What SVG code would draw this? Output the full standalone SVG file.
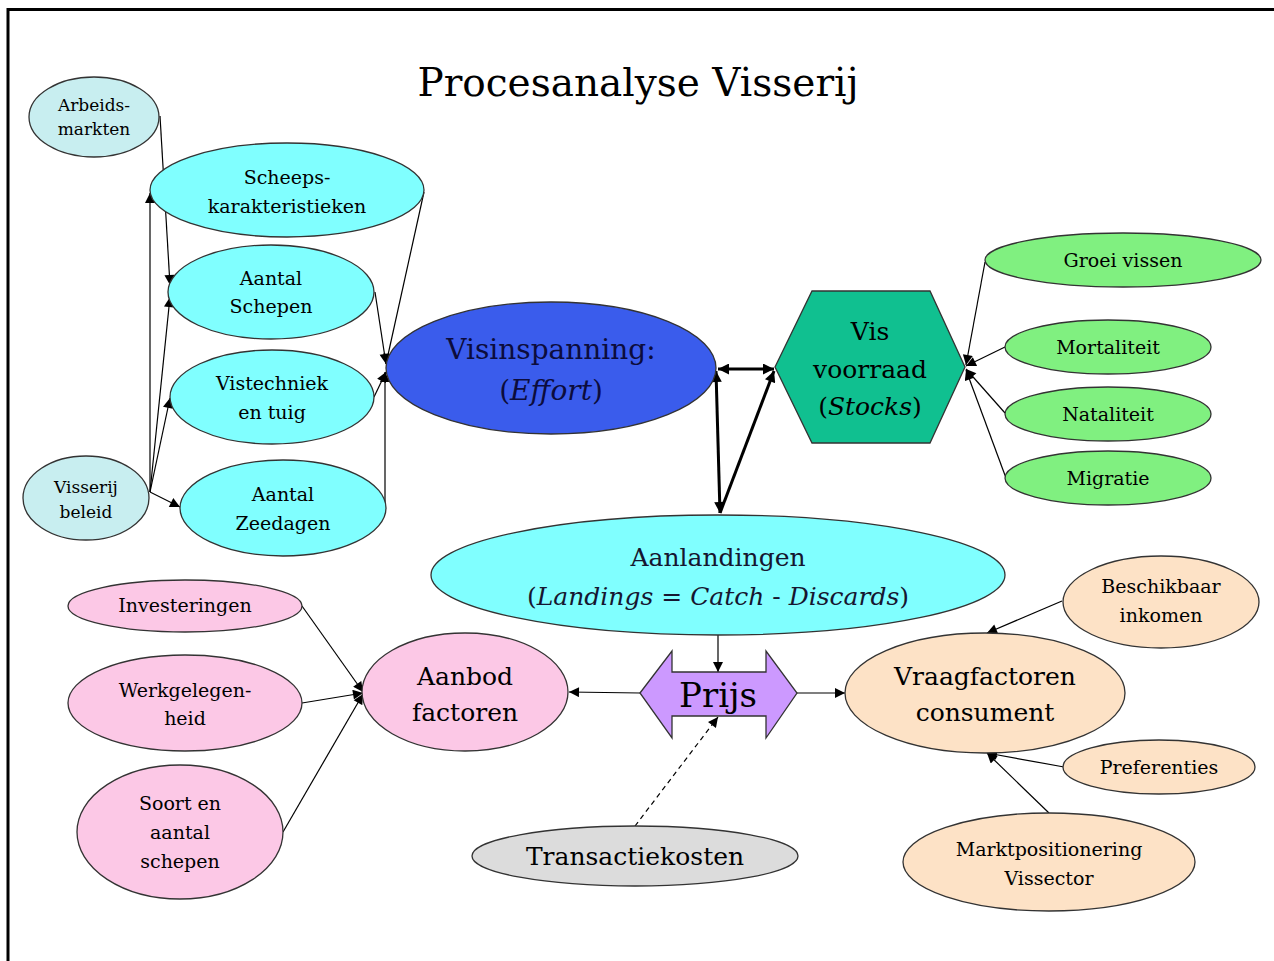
<svg xmlns="http://www.w3.org/2000/svg" width="1274" height="961" viewBox="0 0 1274 961">
  <style>
    text { fill: #000; text-anchor: middle; font-family: "DejaVu Serif", "Liberation Serif", serif; }
    .node ellipse, .node polygon { stroke: #333; stroke-width: 1.3; }
    .lblue { fill: #c8eef0; }
    .cyan { fill: #80ffff; }
    .blue { fill: #3a5cec; }
    .teal { fill: #10c090; }
    .green { fill: #80f080; }
    .pink { fill: #fcc8e6; }
    .purple { fill: #cc99ff; }
    .peach { fill: #fde2c6; }
    .grey { fill: #dcdcdc; }
    .s18 { font-size: 17px; }
    .s20 { font-size: 19px; }
    .s30 { font-size: 25px; }
    .edge { stroke: #000; stroke-width: 1.2; fill: none; marker-end: url(#arrow); }
    .thick { stroke: #000; stroke-width: 3; fill: none; }
  </style>
  <defs>
    <marker id="arrow" markerUnits="userSpaceOnUse" viewBox="0 0 10 10" refX="10" refY="5" markerWidth="11" markerHeight="10" orient="auto">
      <path d="M0,0 L10,5 L0,10 z" fill="#000"/>
    </marker>
    <marker id="arrowBig" markerUnits="userSpaceOnUse" viewBox="0 0 10 10" refX="10" refY="5" markerWidth="12" markerHeight="11" orient="auto">
      <path d="M0,0 L10,5 L0,10 z" fill="#000"/>
    </marker>
    <marker id="arrowBigStart" markerUnits="userSpaceOnUse" viewBox="0 0 10 10" refX="0" refY="5" markerWidth="12" markerHeight="11" orient="auto">
      <path d="M10,0 L0,5 L10,10 z" fill="#000"/>
    </marker>
  </defs>

  <rect width="1274" height="961" fill="#fff"/>
  <!-- page frame -->
  <path d="M8,961 V9.5 H1274" fill="none" stroke="#000" stroke-width="3"/>

  <text x="638" y="96" font-size="39">Procesanalyse Visserij</text>

  <!-- connectors -->
  <g id="connectors">
    <line class="edge" x1="160" y1="116" x2="170" y2="285"/>
    <line class="edge" x1="150" y1="492" x2="150" y2="193"/>
    <line class="edge" x1="150" y1="492" x2="170" y2="297"/>
    <line class="edge" x1="150" y1="492" x2="170" y2="398"/>
    <line class="edge" x1="150" y1="492" x2="180" y2="507"/>
    <line class="edge" x1="424" y1="192" x2="386" y2="364"/>
    <line class="edge" x1="375" y1="292" x2="386" y2="364"/>
    <line class="edge" x1="374" y1="397" x2="386" y2="372"/>
    <line class="edge" x1="385" y1="508" x2="385" y2="372"/>

    <line class="thick" x1="718" y1="369" x2="774" y2="369" marker-start="url(#arrowBigStart)" marker-end="url(#arrowBig)"/>
    <line class="thick" x1="716" y1="371" x2="720" y2="513" marker-start="url(#arrowBigStart)" marker-end="url(#arrowBig)"/>
    <line class="thick" x1="720" y1="513" x2="774" y2="371" marker-end="url(#arrowBig)"/>

    <line class="edge" x1="985" y1="262" x2="966" y2="365"/>
    <line class="edge" x1="1005" y1="347" x2="966" y2="366"/>
    <line class="edge" x1="1005" y1="413" x2="966" y2="369"/>
    <line class="edge" x1="1006" y1="478" x2="966" y2="370"/>

    <line class="edge" x1="718" y1="635" x2="718" y2="672"/>
    <line class="edge" x1="640" y1="693" x2="569" y2="692"/>
    <line class="edge" x1="797" y1="693" x2="845" y2="693"/>
    <line class="edge" x1="635" y1="826" x2="718" y2="717" stroke-dasharray="5,4"/>

    <line class="edge" x1="302" y1="606" x2="363" y2="692"/>
    <line class="edge" x1="302" y1="703" x2="363" y2="693"/>
    <line class="edge" x1="283" y1="832" x2="363" y2="694"/>

    <line class="edge" x1="1062" y1="601" x2="987" y2="633"/>
    <line class="edge" x1="1064" y1="767" x2="987" y2="753"/>
    <line class="edge" x1="1049" y1="813" x2="987" y2="753"/>
  </g>

  <!-- left cluster -->
  <g id="arbeidsmarkten" class="node">
    <ellipse class="lblue" cx="94" cy="117" rx="65" ry="40"/>
    <text class="s18" x="94" y="111">Arbeids-</text>
    <text class="s18" x="94" y="135">markten</text>
  </g>
  <g id="visserij-beleid" class="node">
    <ellipse class="lblue" cx="86" cy="498" rx="63" ry="42"/>
    <text class="s18" x="86" y="493">Visserij</text>
    <text class="s18" x="86" y="518">beleid</text>
  </g>
  <g id="scheepskarakteristieken" class="node">
    <ellipse class="cyan" cx="287" cy="190" rx="137" ry="47"/>
    <text class="s20" x="287" y="184">Scheeps-</text>
    <text class="s20" x="287" y="213">karakteristieken</text>
  </g>
  <g id="aantal-schepen" class="node">
    <ellipse class="cyan" cx="271" cy="292" rx="103" ry="47"/>
    <text class="s20" x="271" y="285">Aantal</text>
    <text class="s20" x="271" y="313">Schepen</text>
  </g>
  <g id="vistechniek" class="node">
    <ellipse class="cyan" cx="272" cy="397" rx="102" ry="47"/>
    <text class="s20" x="272" y="390">Vistechniek</text>
    <text class="s20" x="272" y="419">en tuig</text>
  </g>
  <g id="aantal-zeedagen" class="node">
    <ellipse class="cyan" cx="283" cy="508" rx="103" ry="48"/>
    <text class="s20" x="283" y="501">Aantal</text>
    <text class="s20" x="283" y="530">Zeedagen</text>
  </g>

  <!-- effort and stocks -->
  <g id="visinspanning" class="node">
    <ellipse class="blue" cx="551" cy="368" rx="165" ry="66"/>
    <text x="551" y="359" font-size="28" style="fill:#0c0c3c">Visinspanning:</text>
    <text x="551" y="400" font-size="28" style="fill:#0c0c3c">(<tspan font-style="italic">Effort</tspan>)</text>
  </g>
  <g id="vis-voorraad" class="node">
    <polygon class="teal" points="775,367 812,291 930,291 965,367 930,443 812,443"/>
    <text class="s30" x="870" y="340">Vis</text>
    <text class="s30" x="870" y="378">voorraad</text>
    <text class="s30" x="870" y="415">(<tspan font-style="italic">Stocks</tspan>)</text>
  </g>
  <g id="groei-vissen" class="node">
    <ellipse class="green" cx="1123" cy="260" rx="138" ry="27"/>
    <text class="s20" x="1123" y="267">Groei vissen</text>
  </g>
  <g id="mortaliteit" class="node">
    <ellipse class="green" cx="1108" cy="347" rx="103" ry="27"/>
    <text class="s20" x="1108" y="354">Mortaliteit</text>
  </g>
  <g id="nataliteit" class="node">
    <ellipse class="green" cx="1108" cy="414" rx="103" ry="27"/>
    <text class="s20" x="1108" y="421">Nataliteit</text>
  </g>
  <g id="migratie" class="node">
    <ellipse class="green" cx="1108" cy="478" rx="103" ry="27"/>
    <text class="s20" x="1108" y="485">Migratie</text>
  </g>

  <g id="aanlandingen" class="node">
    <ellipse class="cyan" cx="718" cy="575" rx="287" ry="60"/>
    <text class="s30" x="718" y="566" style="fill:#161630">Aanlandingen</text>
    <text class="s30" x="718" y="605" style="fill:#161630">(<tspan font-style="italic">Landings</tspan> = <tspan font-style="italic">Catch</tspan> - <tspan font-style="italic">Discards</tspan>)</text>
  </g>

  <!-- supply side -->
  <g id="investeringen" class="node">
    <ellipse class="pink" cx="185" cy="606" rx="117" ry="26"/>
    <text class="s20" x="185" y="612">Investeringen</text>
  </g>
  <g id="werkgelegenheid" class="node">
    <ellipse class="pink" cx="185" cy="703" rx="117" ry="48"/>
    <text class="s20" x="185" y="697">Werkgelegen-</text>
    <text class="s20" x="185" y="725">heid</text>
  </g>
  <g id="soort-en-aantal" class="node">
    <ellipse class="pink" cx="180" cy="832" rx="103" ry="67"/>
    <text class="s20" x="180" y="810">Soort en</text>
    <text class="s20" x="180" y="839">aantal</text>
    <text class="s20" x="180" y="868">schepen</text>
  </g>
  <g id="aanbod-factoren" class="node">
    <ellipse class="pink" cx="465" cy="692" rx="103" ry="59"/>
    <text class="s30" x="465" y="685">Aanbod</text>
    <text class="s30" x="465" y="721">factoren</text>
  </g>

  <g id="prijs" class="node">
    <polygon class="purple" points="640,693 672,651 672,672 766,672 766,651 797,693 766,738 766,716 672,716 672,738"/>
    <text x="718" y="707" font-size="34">Prijs</text>
  </g>

  <!-- demand side -->
  <g id="vraagfactoren" class="node">
    <ellipse class="peach" cx="985" cy="693" rx="140" ry="60"/>
    <text class="s30" x="985" y="685">Vraagfactoren</text>
    <text class="s30" x="985" y="721">consument</text>
  </g>
  <g id="beschikbaar-inkomen" class="node">
    <ellipse class="peach" cx="1161" cy="602" rx="98" ry="46"/>
    <text class="s20" x="1161" y="593">Beschikbaar</text>
    <text class="s20" x="1161" y="622">inkomen</text>
  </g>
  <g id="preferenties" class="node">
    <ellipse class="peach" cx="1159" cy="767" rx="96" ry="27"/>
    <text class="s20" x="1159" y="774">Preferenties</text>
  </g>
  <g id="marktpositionering" class="node">
    <ellipse class="peach" cx="1049" cy="862" rx="146" ry="49"/>
    <text class="s20" x="1049" y="856">Marktpositionering</text>
    <text class="s20" x="1049" y="885">Vissector</text>
  </g>

  <g id="transactiekosten" class="node">
    <ellipse class="grey" cx="635" cy="856" rx="163" ry="30"/>
    <text class="s30" x="635" y="865">Transactiekosten</text>
  </g>
</svg>
